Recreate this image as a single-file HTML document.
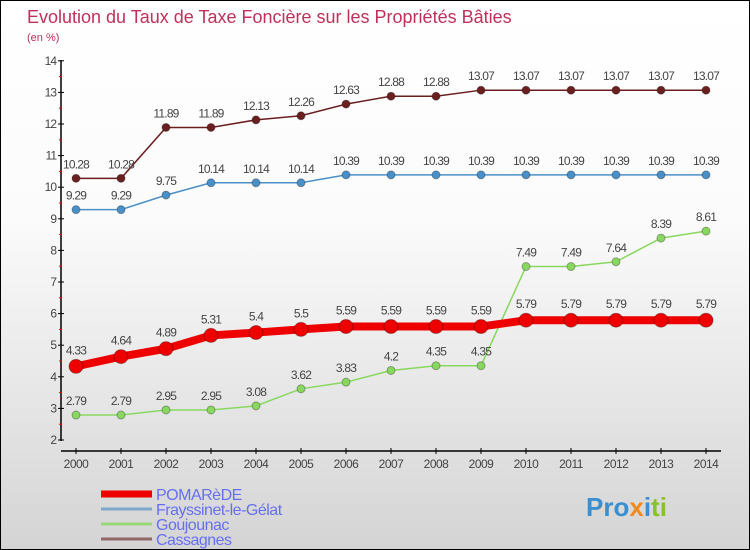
<!DOCTYPE html>
<html><head><meta charset="utf-8"><style>
body{margin:0}
#wrap{width:748px;height:548px;border:1px solid #000;background:linear-gradient(#fff,#fbfbfb 40%,#d4d4d4);position:relative;font-family:"Liberation Sans",sans-serif;overflow:hidden}
</style></head><body>
<div id="wrap">
<svg id="c" width="748" height="548">
<text x="26" y="22" font-size="18" fill="#c0305a">Evolution du Taux de Taxe Foncière sur les Propriétés Bâties</text>
<text x="26" y="40" font-size="11" fill="#c0305a">(en %)</text>
</svg></div>
<script>
const years=[2000,2001,2002,2003,2004,2005,2006,2007,2008,2009,2010,2011,2012,2013,2014];
const yTicks=[2,3,4,5,6,7,8,9,10,11,12,13,14];
const pomarede=[4.33,4.64,4.89,5.31,5.4,5.5,5.59,5.59,5.59,5.59,5.79,5.79,5.79,5.79,5.79];
const frayssinet=[9.29,9.29,9.75,10.14,10.14,10.14,10.39,10.39,10.39,10.39,10.39,10.39,10.39,10.39,10.39];
const goujounac=[2.79,2.79,2.95,2.95,3.08,3.62,3.83,4.2,4.35,4.35,7.49,7.49,7.64,8.39,8.61];
const cassagnes=[10.28,10.28,11.89,11.89,12.13,12.26,12.63,12.88,12.88,13.07,13.07,13.07,13.07,13.07,13.07];
const svg=document.getElementById('c'),NS='http://www.w3.org/2000/svg';
const X=i=>75+i*45, Y=v=>439-(v-2)*31.6;
function mk(t,a,p){const e=document.createElementNS(NS,t);for(const k in a)e.setAttribute(k,a[k]);(p||svg).appendChild(e);return e;}
const ax=mk('line',{x1:60,y1:59,x2:60,y2:440,stroke:'#000','stroke-width':1.5});


const xa=mk('line',{x1:60,y1:450,x2:720,y2:450,stroke:'#000','stroke-width':1.5});


yTicks.forEach(v=>{mk('line',{x1:57,x2:63,y1:Y(v),y2:Y(v),stroke:'#000'});
 if(v<14)mk('line',{x1:58,x2:61,y1:Y(v+0.5),y2:Y(v+0.5),stroke:'red'});
 const t=mk('text',{x:55,y:Y(v)+4,'font-size':12,fill:'#444','text-anchor':'end','letter-spacing':'-1'});t.textContent=v;
 
 });
years.forEach((yr,i)=>{mk('line',{x1:X(i),x2:X(i),y1:447,y2:453,stroke:'#000'});
 const t=mk('text',{x:X(i),y:467,'font-size':12,fill:'#444','text-anchor':'middle','letter-spacing':'-0.5'});t.textContent=yr;
 
 });
function series(vals,color,w,r,name,dy){
 const g=mk('g',{});
 
 
 mk('polyline',{points:vals.map((v,i)=>X(i)+','+Y(v)).join(' '),fill:'none',stroke:color,'stroke-width':w},g);
 vals.forEach((v,i)=>{const c=mk('circle',{cx:X(i),cy:Y(v),r:r,fill:color,stroke:'rgba(0,0,0,0.3)'},g);
  
  
  const t=mk('text',{x:X(i),y:Y(v)-dy,'font-size':12,fill:'#444','text-anchor':'middle','letter-spacing':'-0.8'},g);
  t.textContent=String(v);
  
  });
}
series(cassagnes,'#6b1f1f',1.5,4,'cassagnes-series',10);
series(frayssinet,'#4a90c8',1.5,4,'frayssinet-series',10);
series(goujounac,'#88d860',1.5,4,'goujounac-series',10);
series(pomarede,'#ee0000',8,7,'pomarede-series',12);
const leg=[['POMARèDE','#ee0000',7],['Frayssinet-le-Gélat','#80a8c8',3],['Goujounac','#98d878',3],['Cassagnes','#906868',3]];
leg.forEach((l,i)=>{const y=493+i*15;
 const g=mk('g',{});
 
 
 mk('line',{x1:100,x2:151,y1:y,y2:y,stroke:l[1],'stroke-width':l[2]},g);
 const t=mk('text',{x:155,y:y+6,'font-size':16,fill:'#6670ee','letter-spacing':'-0.5'},g);t.textContent=l[0];});
const lg=mk('text',{x:585,y:515,'font-size':26,'font-weight':'bold',fill:'#3a8fd0'});


lg.innerHTML='<tspan fill="#3a8fd0">Pro</tspan><tspan fill="#f08a20">x</tspan><tspan fill="#3a8fd0">i</tspan><tspan fill="#88c030">ti</tspan>';
</script>
</body></html>
